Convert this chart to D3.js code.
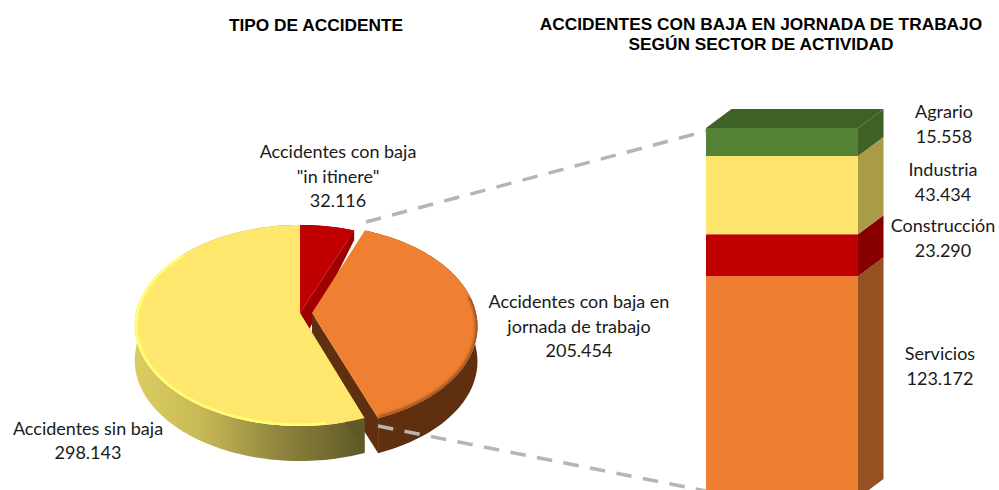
<!DOCTYPE html>
<html>
<head>
<meta charset="utf-8">
<script src="https://cdn.jsdelivr.net/npm/d3@7"></script>
<style>
    html, body { margin: 0; padding: 0; background: #fff; overflow: hidden; }
    .title { font-family: "Liberation Sans", Arial, sans-serif; font-size: 17.3px; font-weight: bold; text-anchor: middle; fill: #000; }
    .label { font-family: Lato, sans-serif; font-size: 18px; text-anchor: middle; fill: #1a1a1a; }
    .guide { fill: none; stroke: #b5b5b5; stroke-width: 3.5; stroke-dasharray: 15.5 11.5; }
</style>
</head>
<body>
<svg id="chart" width="999" height="490"></svg>
<script>
// pie: tipo de accidente
const pieNames = [["Accidentes con baja", "\"in itinere\""], ["Accidentes con baja en", "jornada de trabajo"], ["Accidentes sin baja"]];
const pieValues = [32116, 205454, 298143];
const pieTop = ["#c00000", "#ef7f31", "#ffe66d"];
const pieLabelX = [338, 579, 88];
const pieLabelY = [152, 302, 428.5];

// columna: sector de actividad, de abajo a arriba
const barNames = ["Servicios", "Construcción", "Industria", "Agrario"];
const barValues = [123172, 23290, 43434, 15558];
const barFront = ["#ee7f31", "#c00000", "#ffe56d", "#548235"];
const barSide = ["#95511f", "#870000", "#a99b48", "#3f6126"];
const barLabelX = [940, 943, 943, 944];
const barLabelY = [354, 226, 170, 112];

const locale = d3.formatLocale({ decimal: ",", thousands: ".", grouping: [3], currency: ["", ""] });
const fmt = locale.format(",d");

const svg = d3.select("#chart");
const defs = svg.append("defs");

let sideGrad = defs.append("linearGradient")
    .attr("id", "yellowSide")
    .attr("gradientUnits", "userSpaceOnUse")
    .attr("x1", 135).attr("x2", 363).attr("y1", 0).attr("y2", 0);
[[0, "#dccd62"], [0.3, "#c6b855"], [0.62, "#91863f"], [1, "#5f5927"]].forEach(function (s) {
    sideGrad.append("stop").attr("offset", s[0]).attr("stop-color", s[1]);
});
defs.append("filter").attr("id", "soft")
    .append("feGaussianBlur").attr("stdDeviation", 1.6);

/** Perspective of the pie plane: angle clockwise from the top, r in disc units */
const pieCx = 300, pieCy = 313, pieRx = 164, pieRy = 99, tilt = 0.124;
function project(angle, r, explode, midAngle) {
    let u = r * Math.sin(angle) + explode * Math.sin(midAngle);
    let v = r * Math.cos(angle) + explode * Math.cos(midAngle);
    let w = 1 + tilt * v;
    // depth of the wall shrinks towards the back of the disc
    let depth = v > 0 ? 35 - 27 * v : 35;
    return { x: pieCx + pieRx * u / w, y: pieCy - pieRy * v / w, depth: depth };
}

const line = d3.line().x(d => d.x).y(d => d.y);
const arcs = d3.pie().sort(null).startAngle(0).endAngle(2 * Math.PI)(pieValues);
const explodes = [0, 0.073, 0];

function rim(d, r, from, to) {
    let mid = (d.startAngle + d.endAngle) / 2;
    let a0 = from === undefined ? d.startAngle : from;
    let a1 = to === undefined ? d.endAngle : to;
    let n = Math.max(2, Math.ceil((a1 - a0) * 40));
    return d3.range(n + 1).map(function (i) {
        return project(a0 + (a1 - a0) * i / n, r, explodes[d.index], mid);
    });
}
function sector(d, r) {
    let mid = (d.startAngle + d.endAngle) / 2;
    return line([project(0, 0, explodes[d.index], mid)].concat(rim(d, r))) + "Z";
}
function lowered(p) { return { x: p.x, y: p.y + p.depth }; }
function wallPath(points) {
    return line(points.concat(points.slice().reverse().map(lowered))) + "Z";
}

defs.selectAll("clipPath").data(arcs).enter().append("clipPath")
    .attr("id", d => "clip" + d.index)
    .append("path").attr("d", d => sector(d, 1));

// painter's order: red, orange, then the yellow slice on top of both
const pieG = svg.append("g");
function drawSlice(i, sideFill, edgeFill, edge) {
    let d = arcs[i];
    let g = pieG.append("g");
    let points = rim(d, 1);
    g.append("path").attr("d", wallPath(points)).attr("fill", sideFill);
    let apex = project(0, 0, explodes[i], (d.startAngle + d.endAngle) / 2);
    let corner = edge === "end" ? points[points.length - 1] : points[0];
    g.append("path").attr("d", wallPath([apex, corner])).attr("fill", edgeFill);
    g.append("path").attr("d", sector(d, 1)).attr("fill", pieTop[i]);
    return g;
}

drawSlice(0, "#a00000", "#a00000", "end");

// soft shadow along the front of the orange bevel
let orange = drawSlice(1, "#5f2f10", "#5f2f10", "end");
orange.append("g").attr("clip-path", "url(#clip1)")
    .append("path")
    .attr("d", line(rim(arcs[1], 1, 1.4, arcs[1].endAngle)))
    .attr("fill", "none")
    .attr("stroke", "#6b3a14")
    .attr("stroke-width", 4)
    .attr("opacity", 0.7)
    .style("filter", "url(#soft)");

// light bevel on the front left of the yellow slice
let yellow = drawSlice(2, "url(#yellowSide)", "#5f5927", "start");
yellow.append("g").attr("clip-path", "url(#clip2)")
    .append("path")
    .attr("d", line(rim(arcs[2], 0.992, 3.0, 5.4)))
    .attr("fill", "none")
    .attr("stroke", "#ffff73")
    .attr("stroke-width", 3);

// stacked column
const barX0 = 706, barX1 = 858, depthX = 25.5, depthY = 19;
const total = d3.sum(barValues);
const y = d3.scaleLinear().domain([0, total]).range([498, 128]);
const stacked = d3.cumsum(barValues);

const barG = svg.append("g");
barG.selectAll(".front").data(barValues).enter().append("rect")
    .attr("class", "front")
    .attr("x", barX0)
    .attr("width", barX1 - barX0)
    .attr("y", (d, i) => y(stacked[i]))
    .attr("height", d => y(0) - y(d))
    .attr("fill", (d, i) => barFront[i]);
barG.selectAll(".side").data(barValues).enter().append("path")
    .attr("class", "side")
    .attr("d", function (d, i) {
        let top = y(stacked[i]), bottom = y(stacked[i] - d);
        return "M" + barX1 + "," + top + "L" + (barX1 + depthX) + "," + (top - depthY)
            + "L" + (barX1 + depthX) + "," + (bottom - depthY) + "L" + barX1 + "," + bottom + "Z";
    })
    .attr("fill", (d, i) => barSide[i]);
barG.append("path")
    .attr("d", "M" + barX0 + "," + y(total) + "L" + (barX0 + depthX) + "," + (y(total) - depthY)
        + "L" + (barX1 + depthX) + "," + (y(total) - depthY) + "L" + barX1 + "," + y(total) + "Z")
    .attr("fill", barSide[3]);

// dashed guides from the pie to the column
svg.append("line").attr("class", "guide")
    .attr("x1", 366).attr("y1", 222).attr("x2", barX0).attr("y2", 131);
svg.append("line").attr("class", "guide")
    .attr("x1", 378).attr("y1", 426).attr("x2", barX0).attr("y2", 491);

// titles
svg.append("text").attr("class", "title").attr("x", 316).attr("y", 31).text("TIPO DE ACCIDENTE");
svg.append("text").attr("class", "title").attr("x", 761).attr("y", 29.5).text("ACCIDENTES CON BAJA EN JORNADA DE TRABAJO");
svg.append("text").attr("class", "title").attr("x", 761).attr("y", 50).text("SEGÚN SECTOR DE ACTIVIDAD");

// labels
function addLabel(lines, value, x, yTop) {
    lines.concat([fmt(value)]).forEach(function (t, i) {
        svg.append("text").attr("class", "label")
            .attr("x", x)
            .attr("y", yTop + i * 24.5)
            .attr("dy", "0.35em")
            .text(t);
    });
}
pieNames.forEach((n, i) => addLabel(n, pieValues[i], pieLabelX[i], pieLabelY[i]));
barNames.forEach((n, i) => addLabel([n], barValues[i], barLabelX[i], barLabelY[i]));
</script>
</body>
</html>
